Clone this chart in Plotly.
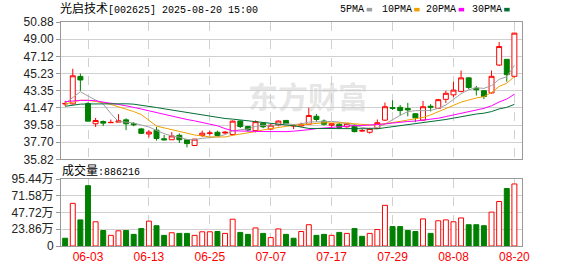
import plotly.graph_objects as go

# ---------------- data ----------------
dates = ["2025-05-28", "2025-05-29", "2025-05-30", "2025-06-03", "2025-06-04", "2025-06-05", "2025-06-06",
         "2025-06-09", "2025-06-10", "2025-06-11", "2025-06-12", "2025-06-13", "2025-06-16", "2025-06-17",
         "2025-06-18", "2025-06-19", "2025-06-20", "2025-06-23", "2025-06-24", "2025-06-25", "2025-06-26",
         "2025-06-27", "2025-06-30", "2025-07-01", "2025-07-02", "2025-07-03", "2025-07-04", "2025-07-07",
         "2025-07-08", "2025-07-09", "2025-07-10", "2025-07-11", "2025-07-14", "2025-07-15", "2025-07-16",
         "2025-07-17", "2025-07-18", "2025-07-21", "2025-07-22", "2025-07-23", "2025-07-24", "2025-07-25",
         "2025-07-28", "2025-07-29", "2025-07-30", "2025-07-31", "2025-08-01", "2025-08-04", "2025-08-05",
         "2025-08-06", "2025-08-07", "2025-08-08", "2025-08-11", "2025-08-12", "2025-08-13", "2025-08-14",
         "2025-08-15", "2025-08-18", "2025-08-19", "2025-08-20"]

opens = [41.90, 41.91, 44.92, 41.94, 39.73, 39.98, 39.85, 39.91, 40.16, 39.73,
         39.17, 38.61, 39.03, 38.09, 37.98, 38.47, 37.98, 37.35, 38.45, 38.68,
         38.80, 38.72, 38.55, 40.03, 39.43, 38.98, 39.80, 39.15, 39.60, 40.10,
         39.50, 39.50, 39.68, 40.55, 40.03, 39.57, 39.68, 39.40, 39.57, 38.95,
         38.80, 39.22, 40.13, 41.50, 41.53, 41.40, 40.83, 40.13, 41.65, 41.43,
         42.41, 42.90, 43.28, 44.76, 43.63, 43.35, 43.11, 46.16, 46.79, 44.93]
highs = [42.25, 45.76, 45.23, 42.10, 40.37, 40.09, 40.19, 40.79, 40.33, 39.91,
         39.28, 39.03, 39.38, 38.51, 38.82, 38.68, 38.05, 38.05, 38.98, 38.98,
         38.98, 38.95, 40.10, 40.10, 39.50, 40.10, 39.85, 39.75, 40.10, 40.12,
         39.68, 39.85, 41.50, 40.80, 40.20, 39.80, 39.85, 39.80, 39.68, 39.15,
         39.30, 40.20, 42.06, 42.30, 41.78, 42.02, 40.85, 42.23, 41.88, 42.45,
         43.35, 44.33, 45.56, 44.80, 43.88, 43.42, 45.56, 48.68, 46.79, 49.70]
lows = [41.65, 41.84, 43.34, 40.00, 39.38, 39.49, 39.85, 39.91, 39.03, 39.45,
        38.61, 38.23, 37.88, 37.88, 37.98, 37.63, 37.14, 37.28, 38.28, 38.45,
        38.35, 38.62, 38.45, 39.26, 38.90, 38.80, 39.25, 39.05, 39.45, 39.70,
        39.15, 39.40, 39.60, 39.96, 39.55, 39.30, 39.15, 39.30, 38.80, 38.87,
        38.65, 39.15, 40.03, 41.25, 40.62, 40.55, 39.92, 40.03, 41.08, 41.35,
        42.00, 42.65, 43.18, 43.53, 42.83, 42.44, 43.05, 46.05, 44.33, 44.80]
closes = [41.95, 44.99, 44.53, 40.02, 40.09, 39.80, 39.88, 40.05, 39.73, 39.63,
          38.68, 38.82, 38.12, 37.98, 38.40, 37.98, 37.56, 38.05, 38.70, 38.72,
          38.45, 38.80, 40.02, 39.43, 39.05, 39.96, 39.40, 39.57, 40.03, 39.75,
          39.52, 39.68, 40.64, 40.20, 39.68, 39.75, 39.33, 39.75, 38.87, 38.97,
          39.22, 39.85, 41.60, 41.42, 41.18, 41.25, 40.38, 41.60, 41.55, 42.37,
          43.07, 43.42, 44.76, 43.70, 43.46, 42.72, 44.93, 48.19, 45.11, 49.66]

ma5 = [41.97, 42.60, 43.24, 42.77, 42.32, 41.89, 40.86, 39.97, 39.91, 39.82,
       39.59, 39.38, 39.00, 38.65, 38.40, 38.26, 38.01, 37.99, 38.14, 38.20,
       38.30, 38.54, 38.94, 39.08, 39.15, 39.45, 39.57, 39.48, 39.60, 39.74,
       39.65, 39.71, 39.92, 39.96, 39.94, 39.99, 39.92, 39.74, 39.48, 39.33,
       39.22, 39.33, 39.70, 40.21, 40.65, 41.06, 41.17, 41.17, 41.19, 41.43,
       41.79, 42.40, 43.03, 43.46, 43.68, 43.61, 43.91, 44.60, 44.88, 46.12]
ma10 = [41.90, 42.10, 42.30, 42.30, 42.20, 42.05, 41.85, 41.60, 41.34, 41.07,
        40.74, 40.12, 39.48, 39.28, 39.11, 38.93, 38.70, 38.50, 38.39, 38.30,
        38.28, 38.28, 38.47, 38.61, 38.68, 38.87, 39.06, 39.21, 39.34, 39.45,
        39.55, 39.64, 39.70, 39.78, 39.84, 39.82, 39.82, 39.83, 39.72, 39.64,
        39.61, 39.62, 39.72, 39.84, 39.99, 40.14, 40.25, 40.43, 40.70, 41.04,
        41.43, 41.78, 42.10, 42.33, 42.56, 42.70, 43.16, 43.82, 44.17, 44.90]
ma20 = [42.15, 42.25, 42.30, 42.30, 42.25, 42.10, 42.00, 41.85, 41.70, 41.55,
        41.35, 41.15, 40.95, 40.75, 40.55, 40.40, 40.20, 40.05, 39.88, 39.68,
        39.51, 39.20, 38.97, 38.94, 38.89, 38.90, 38.88, 38.85, 38.87, 38.87,
        38.92, 38.96, 39.08, 39.20, 39.26, 39.35, 39.44, 39.52, 39.53, 39.54,
        39.58, 39.63, 39.71, 39.81, 39.92, 39.98, 40.03, 40.13, 40.21, 40.34,
        40.52, 40.70, 40.91, 41.09, 41.27, 41.42, 41.70, 42.12, 42.44, 42.97]
ma30 = [41.65, 41.78, 41.88, 41.90, 41.92, 41.92, 41.92, 41.92, 41.92, 41.88,
        41.78, 41.65, 41.51, 41.37, 41.24, 41.10, 40.94, 40.80, 40.68, 40.56,
        40.43, 40.31, 40.24, 40.14, 40.03, 39.95, 39.86, 39.77, 39.69, 39.60,
        39.52, 39.35, 39.22, 39.22, 39.21, 39.21, 39.19, 39.18, 39.15, 39.13,
        39.15, 39.18, 39.30, 39.41, 39.50, 39.61, 39.71, 39.83, 39.92, 40.04,
        40.20, 40.35, 40.51, 40.65, 40.80, 40.89, 41.07, 41.36, 41.53, 41.86]

# volume in 万 (10k shares)
volumes = [11.1, 60.9, 37.3, 86.2, 34.6, 22.1, 15.2, 21.7, 22.1, 16.6,
           24.9, 35.5, 29.0, 15.2, 18.9, 18.0, 18.0, 15.2, 20.3, 20.3,
           20.7, 18.0, 38.3, 19.4, 16.6, 25.8, 18.0, 12.0, 24.4, 16.6,
           11.1, 20.7, 30.4, 15.2, 16.6, 15.2, 19.4, 18.0, 24.9, 13.8,
           18.0, 23.5, 58.1, 27.7, 27.7, 22.1, 20.7, 38.7, 18.0, 36.0,
           37.3, 34.6, 40.1, 30.4, 30.4, 29.0, 48.4, 63.6, 82.1, 88.6216]
vol_up = [0, 1, 0, 0, 1, 0, 1, 1, 0, 0, 0, 1, 0, 0, 1, 0, 0, 1, 1, 1,
          0, 1, 1, 0, 0, 1, 0, 1, 1, 0, 0, 1, 1, 0, 0, 1, 0, 1, 0, 0,
          1, 1, 1, 0, 0, 0, 0, 1, 0, 1, 1, 1, 1, 0, 0, 0, 1, 1, 0, 1]

tick_dates = ["2025-06-03", "2025-06-13", "2025-06-25", "2025-07-07",
              "2025-07-17", "2025-07-29", "2025-08-08", "2025-08-20"]
tick_labels = ["06-03", "06-13", "06-25", "07-07", "07-17", "07-29", "08-08", "08-20"]

price_ticks = [35.82, 37.7025, 39.585, 41.4675, 43.35, 45.2325, 47.115, 48.9975, 50.88]
price_tick_text = ["35.82", "37.70", "39.58", "41.47", "43.35", "45.23", "47.12", "49.00", "50.88"]
vol_ticks = [0, 23.86, 47.72, 71.58, 95.44]
vol_tick_text = ["0", "23.86万", "47.72万", "71.58万", "95.44万"]

title_name = "光启技术"
title_rest = "[002625] 2025-08-20 15:00"
ma_names = ["5PMA", "10PMA", "20PMA", "30PMA"]
last_volume = "886216"

# ---------------- styles ----------------
RED = "#ff0000"
GREEN = "#008000"
MA_COLORS = ["#a0a0a0", "#f0a000", "#ff00ff", "#006f36"]
GRID = "#d0d0d0"
BORDER = "#999999"
SANS = "Liberation Sans, Arial, Noto Sans CJK SC"

W, H = 578, 276
ML, MR, MT, MB = 56, 56, 22, 21
PW, PH = W - ML - MR, H - MT - MB


def px_x(px):
    return (px - ML) / PW


def px_y(py):
    return (H - MB - py) / PH


fig = go.Figure()

fig.add_trace(go.Candlestick(
    x=dates, open=opens, high=highs, low=lows, close=closes,
    increasing=dict(line=dict(color=RED, width=1), fillcolor="#ffffff"),
    decreasing=dict(line=dict(color=GREEN, width=1), fillcolor=GREEN),
    xaxis="x", yaxis="y", hoverinfo="skip", showlegend=False,
))

for name, vals, col in zip(ma_names, [ma5, ma10, ma20, ma30], MA_COLORS):
    fig.add_trace(go.Scatter(x=dates, y=vals, mode="lines", name=name,
                             line=dict(color=col, width=1), xaxis="x", yaxis="y",
                             hoverinfo="skip", showlegend=False))

fig.add_trace(go.Bar(
    x=dates, y=volumes,
    marker=dict(color=["#ffffff" if u else GREEN for u in vol_up],
                line=dict(color=[RED if u else GREEN for u in vol_up], width=1)),
    xaxis="x2", yaxis="y2", hoverinfo="skip", showlegend=False,
))

xrange = [-0.546, 60.0]
common_x = dict(type="category", categoryorder="array", categoryarray=dates,
                range=xrange, showgrid=True, gridcolor=GRID, griddash="dash", gridwidth=1,
                showline=True, mirror=True, linecolor=BORDER, linewidth=1,
                zeroline=False, tickvals=tick_dates, ticks="", fixedrange=True)

fig.update_layout(
    width=W, height=H,
    margin=dict(l=ML, r=MR, t=MT, b=MB, pad=0),
    paper_bgcolor="#ffffff", plot_bgcolor="#ffffff",
    showlegend=False,
    boxgap=0.35, boxgroupgap=0, bargap=0.35,
    xaxis=dict(common_x, domain=[0, 1], anchor="y", showticklabels=False,
               rangeslider=dict(visible=False)),
    xaxis2=dict(common_x, domain=[0, 1], anchor="y2", showticklabels=True,
                ticktext=tick_labels, tickfont=dict(family=SANS, size=12, color=RED)),
    yaxis=dict(domain=[px_y(165), 1], range=[35.82, 50.88], tickvals=price_ticks,
               ticktext=price_tick_text, ticks="outside", ticklen=4, tickcolor=BORDER,
               showgrid=True, gridcolor=GRID, showline=True, mirror=True,
               linecolor=BORDER, linewidth=1, zeroline=False,
               tickfont=dict(family=SANS, size=12, color="#222222"), fixedrange=True),
    yaxis2=dict(domain=[0, px_y(185.5)], range=[0, 95.44], tickvals=vol_ticks,
                ticktext=vol_tick_text, ticks="outside", ticklen=4, tickcolor=BORDER,
                showgrid=True, gridcolor=GRID, showline=True, mirror=True,
                linecolor=BORDER, linewidth=1, zeroline=False,
                tickfont=dict(family=SANS, size=12, color="#222222"), fixedrange=True),
)

annotations = []
shapes = []

# watermark
annotations.append(dict(xref="paper", yref="paper", x=px_x(306), y=px_y(98),
                        text="<b>东方财富</b>", showarrow=False,
                        font=dict(family="Noto Sans CJK SC", size=30, color="rgba(200,200,200,0.45)"),
                        xanchor="center", yanchor="middle"))

# title
annotations.append(dict(xref="paper", yref="paper", x=px_x(55), y=px_y(8.8),
                        text='<span style="font-size:12px">' + title_name + '</span>' + title_rest,
                        showarrow=False, xanchor="left", yanchor="middle",
                        borderpad=0, borderwidth=0,
                        font=dict(family="Liberation Mono, Noto Sans CJK SC", size=10, color="#000000")))

# legend
legend_text_x = [338, 380, 425, 471]
legend_box_x = [365, 413, 458, 504]
for name, tx, bx, col in zip(ma_names, legend_text_x, legend_box_x, MA_COLORS):
    annotations.append(dict(xref="paper", yref="paper", x=px_x(tx), y=px_y(9),
                            text=name, showarrow=False, xanchor="left", yanchor="middle",
                            borderpad=0, borderwidth=0,
                            font=dict(family="Liberation Mono", size=10, color="#000000")))
    shapes.append(dict(type="rect", xref="paper", yref="paper",
                       x0=px_x(bx), x1=px_x(bx + 5.5), y0=px_y(11), y1=px_y(7.3),
                       fillcolor=col, line=dict(width=0)))

# volume label
annotations.append(dict(xref="paper", yref="paper", x=px_x(57), y=px_y(176.5),
                        text='<span style="font-size:12px">成交量</span>:' + last_volume,
                        showarrow=False, xanchor="left", yanchor="middle",
                        borderpad=0, borderwidth=0,
                        font=dict(family="Liberation Mono, Noto Sans CJK SC", size=10, color="#000000")))

fig.update_layout(annotations=annotations, shapes=shapes)

fig.write_html("out.html")
